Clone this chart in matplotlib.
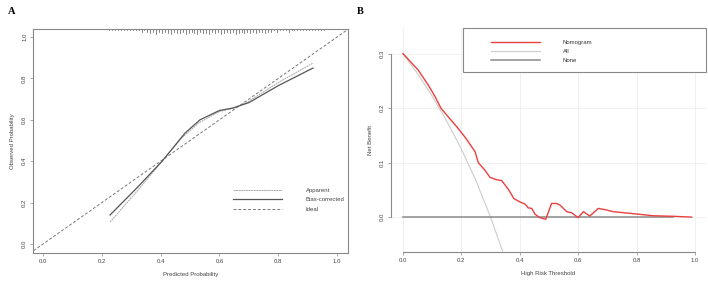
import numpy as np
import matplotlib
matplotlib.use("Agg")
import matplotlib.pyplot as plt
from matplotlib.patches import Rectangle

plt.rcParams['font.family'] = ['Liberation Sans', 'DejaVu Sans']

# ---- Panel A: calibration curve ----
apparent_x = [0.228, 0.32, 0.405, 0.47, 0.53, 0.60, 0.646, 0.70, 0.80, 0.918]
apparent_y = [0.106, 0.255, 0.400, 0.510, 0.585, 0.640, 0.655, 0.690, 0.780, 0.874]
bias_x = [0.228, 0.32, 0.405, 0.483, 0.534, 0.60, 0.646, 0.70, 0.80, 0.918]
bias_y = [0.140, 0.272, 0.400, 0.536, 0.600, 0.645, 0.657, 0.683, 0.765, 0.850]
# rug of predicted probabilities (bin start 0.22, width 0.01), relative tick heights
rug_start = 0.22
rug_heights = [1, 1, 1, 1, 1, 1, 1, 1, 1, 1, 1, 2, 1,
               2, 3, 2, 4, 2, 3, 2, 3, 4, 2, 3, 3, 2, 4, 3, 2, 3, 4, 2, 3, 3, 4, 2, 3,
               2, 4, 3, 2, 3, 2, 4, 3, 2, 3, 2, 3, 2, 3, 2, 2, 3, 2, 2,
               1, 2, 1, 1, 1, 2, 1, 1, 1, 1, 1, 1, 1, 1, 1, 1, 1, 1]
calib_ticks = [0.0, 0.2, 0.4, 0.6, 0.8, 1.0]
legend_a = ["Apparent", "Bias-corrected", "Ideal"]

# ---- Panel B: decision curve ----
nomo_x = [0.0, 0.052, 0.087, 0.11, 0.13, 0.155, 0.184, 0.212, 0.22, 0.247, 0.258,
          0.281, 0.298, 0.318, 0.338, 0.361, 0.38, 0.40, 0.418, 0.429, 0.441, 0.452,
          0.469, 0.489, 0.509, 0.526, 0.538, 0.561, 0.578, 0.60, 0.618, 0.64, 0.669,
          0.698, 0.72, 0.777, 0.857, 0.926, 0.989]
nomo_y = [0.300, 0.270, 0.242, 0.221, 0.200, 0.184, 0.166, 0.147, 0.141, 0.120, 0.100,
          0.086, 0.073, 0.069, 0.067, 0.051, 0.034, 0.028, 0.024, 0.017, 0.016, 0.0055,
          -0.001, -0.004, 0.025, 0.025, 0.022, 0.010, 0.008, -0.001, 0.010, 0.002, 0.016,
          0.013, 0.010, 0.007, 0.0025, 0.0015, 0.0]
all_x = [0.0, 0.05, 0.10, 0.15, 0.20, 0.25, 0.30, 0.341]
all_y = [0.300, 0.263, 0.222, 0.176, 0.125, 0.067, 0.0, -0.062]
none_x = [0.0, 0.925]
none_y = [0.0, 0.0]
dca_xticks = [0.0, 0.2, 0.4, 0.6, 0.8, 1.0]
dca_yticks = [0.0, 0.1, 0.2, 0.3]
legend_b = ["Nomogram", "All", "None"]

fs = 4.3
tick_col = '#444444'

fig = plt.figure(figsize=(7.08, 2.81), dpi=100)

# Panel A
ax1 = fig.add_axes([33 / 708, 1 - 253 / 281, 315 / 708, 224 / 281])
ax1.set_xlim(-0.034, 1.037)
ax1.set_ylim(-0.0435, 1.0386)
ax1.plot([-0.1, 1.1], [-0.1, 1.1], color='#777777', lw=0.7, ls=(0, (3, 2)), label=legend_a[2])
ax1.plot(apparent_x, apparent_y, color='#aaaaaa', lw=0.7, ls=(0, (2, 0.6)), label=legend_a[0])
ax1.plot(bias_x, bias_y, color='#555555', lw=0.9, label=legend_a[1])
for i, h in enumerate(rug_heights):
    xr = rug_start + 0.01 * i + 0.005
    ax1.plot([xr, xr], [1.0386, 1.0386 - 0.0062 * h], color='#555555', lw=0.5)
for s in ax1.spines.values():
    s.set_color('#888888')
    s.set_linewidth(0.8)
ax1.set_xticks(calib_ticks)
ax1.set_yticks(calib_ticks)
ax1.set_xticklabels([f"{t:.1f}" for t in calib_ticks])
ax1.set_yticklabels([f"{t:.1f}" for t in calib_ticks], rotation=90, va='center')
ax1.tick_params(labelsize=fs, length=2.2, width=0.5, pad=2, colors='#888888', labelcolor=tick_col)
ax1.set_xlabel("Predicted Probability", fontsize=fs, color=tick_col, labelpad=6)
ax1.set_ylabel("Observed Probability", fontsize=fs, color=tick_col, labelpad=5)
h, l = ax1.get_legend_handles_labels()
order = [1, 2, 0]
ax1.legend([h[i] for i in order], [l[i] for i in order], loc='upper left',
           bbox_to_anchor=(0.625, 0.306), frameon=False, fontsize=fs, borderpad=0,
           handlelength=8.2, handletextpad=4, labelspacing=0.75, labelcolor=tick_col)

# Panel B
ax2 = fig.add_axes([391 / 708, 1 - 252 / 281, 315 / 708, 224 / 281])
ax2.set_xlim(-0.041, 1.038)
ax2.set_ylim(-0.064, 0.347)
for gx in dca_xticks:
    ax2.axvline(gx, color='#eeeeee', lw=0.6, zorder=0)
for gy in dca_yticks:
    ax2.axhline(gy, color='#eeeeee', lw=0.6, zorder=0)
ax2.plot(all_x, all_y, color='#cccccc', lw=0.8, label=legend_b[1])
ax2.plot(none_x, none_y, color='#8a8a8a', lw=1.1, label=legend_b[2])
ax2.plot(nomo_x, nomo_y, color='#e8403e', lw=1.0, label=legend_b[0])
ax2.spines['top'].set_visible(False)
ax2.spines['right'].set_visible(False)
ax2.spines['left'].set_bounds(0, 0.3)
ax2.spines['bottom'].set_bounds(0, 1)
for s in ('left', 'bottom'):
    ax2.spines[s].set_color('#888888')
    ax2.spines[s].set_linewidth(0.8)
ax2.set_xticks(dca_xticks)
ax2.set_yticks(dca_yticks)
ax2.set_xticklabels([f"{t:.1f}" for t in dca_xticks])
ax2.set_yticklabels([f"{t:.1f}" for t in dca_yticks], rotation=90, va='center')
ax2.tick_params(labelsize=fs, length=2.2, width=0.5, pad=2, colors='#888888', labelcolor=tick_col)
ax2.set_xlabel("High Risk Threshold", fontsize=fs, color=tick_col, labelpad=6)
ax2.set_ylabel("Net Benefit", fontsize=fs, color=tick_col, labelpad=5)
ax2.add_patch(Rectangle((0.229, 0.804), 0.771, 0.196, transform=ax2.transAxes,
                        fill=True, facecolor='white', edgecolor='#888888', lw=0.8,
                        clip_on=False, zorder=3))
h, l = ax2.get_legend_handles_labels()
order = [2, 0, 1]
leg = ax2.legend([h[i] for i in order], [l[i] for i in order], loc='upper left',
                 bbox_to_anchor=(0.308, 0.962), frameon=False, fontsize=fs, borderpad=0,
                 handlelength=8.2, handletextpad=3.8, labelspacing=0.7, labelcolor='#333333')
leg.set_zorder(4)

fig.text(8 / 708, 1 - 11 / 281, "A", fontsize=7.5, fontweight='bold',
         family='Liberation Serif', va='center', ha='left')
fig.text(357 / 708, 1 - 11 / 281, "B", fontsize=7.5, fontweight='bold',
         family='Liberation Serif', va='center', ha='left')

fig.savefig("out.png", dpi=100)
